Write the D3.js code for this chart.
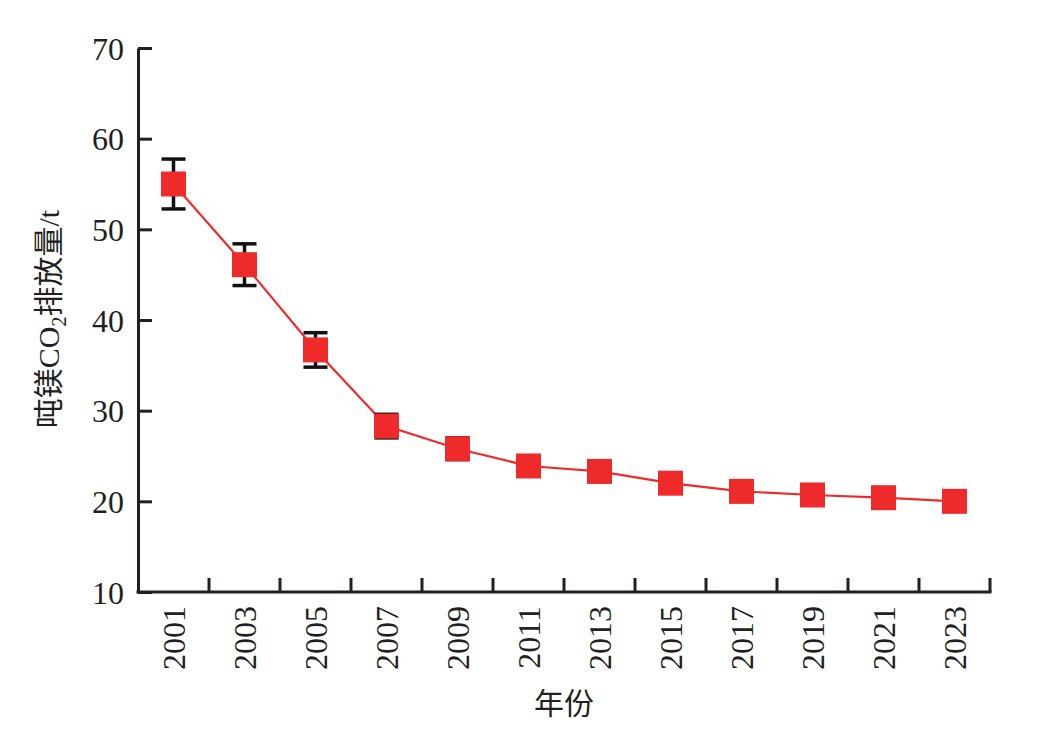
<!DOCTYPE html>
<html><head><meta charset="utf-8">
<script src="https://cdn.jsdelivr.net/npm/d3@7"></script>
<style>
body{margin:0;background:#fff;}
svg{display:block;}
</style></head>
<body>
<svg id="chart" width="1039" height="733"></svg>
<script>
const years = ["2001","2003","2005","2007","2009","2011","2013","2015","2017","2019","2021","2023"];
const values = [55.0, 46.1, 36.7, 28.3, 25.8, 23.9, 23.3, 22.0, 21.1, 20.7, 20.4, 20.0];
const errors = [2.75, 2.3, 1.9, 1.3, 1.2, 1.0, 1.0, 0.8, 0.8, 0.6, 0.6, 0.5];
const yTicks = [10, 20, 30, 40, 50, 60, 70];

const svg = d3.select("#chart");
const m = {left:138, right:990, top:48, bottom:592};
const axisColor = "#231f20";
const red = "#ee2a2a";
const numFont = "'Liberation Serif','Times New Roman',serif";
const cjkFont = "'Liberation Serif','Noto Sans CJK SC',serif";

const x = d3.scaleBand().domain(years).range([m.left, m.right]).padding(0);
const y = d3.scaleLinear().domain([10, 70]).range([m.bottom, m.top]);

// Y axis
const yAxis = svg.append("g").attr("transform", `translate(${m.left},0)`)
  .call(d3.axisRight(y).tickValues(yTicks).tickSize(14).tickSizeOuter(0).tickFormat(d3.format("d")));
yAxis.select(".domain").attr("stroke", axisColor).attr("stroke-width", 3);
yAxis.selectAll(".tick line").attr("stroke", axisColor).attr("stroke-width", 3);
yAxis.selectAll(".tick text").attr("x", -14).attr("text-anchor", "end")
  .attr("font-family", numFont).attr("font-size", 32).attr("fill", axisColor).attr("dy", "0.35em");

// X axis
const xAxis = svg.append("g").attr("transform", `translate(0,${m.bottom})`);
xAxis.append("line").attr("x1", m.left - 1.5).attr("x2", m.right + 1.5).attr("y1", 0).attr("y2", 0)
  .attr("stroke", axisColor).attr("stroke-width", 3);
xAxis.selectAll("line.tk").data(years).join("line").attr("class", "tk")
  .attr("x1", d => x(d) + x.bandwidth()).attr("x2", d => x(d) + x.bandwidth())
  .attr("y1", 0).attr("y2", -14).attr("stroke", axisColor).attr("stroke-width", 3);
xAxis.selectAll("text").data(years).join("text")
  .attr("transform", d => `translate(${x(d) + x.bandwidth()/2},14) rotate(-90)`)
  .attr("text-anchor", "end").attr("dy", "0.35em")
  .attr("font-family", numFont).attr("font-size", 32).attr("fill", axisColor).text(d => d);

// Axis titles
svg.append("text").attr("x", (m.left + m.right)/2).attr("y", 714).attr("text-anchor", "middle")
  .attr("font-family", cjkFont).attr("font-size", 30).attr("fill", axisColor).text("年份");

const yl = svg.append("text").attr("transform", "translate(59,319) rotate(-90)")
  .attr("text-anchor", "middle").attr("font-family", cjkFont).attr("font-size", 30).attr("fill", axisColor);
yl.append("tspan").text("吨镁CO");
yl.append("tspan").attr("font-size", 20).attr("dy", 7).text("2");
yl.append("tspan").attr("dy", -7).text("排放量/t");

const cx = d => x(d) + x.bandwidth()/2;

// line
svg.append("path").datum(years.map((d,i) => [cx(d), y(values[i])]))
  .attr("d", d3.line()).attr("fill", "none").attr("stroke", red).attr("stroke-width", 2.2);

// error bars
const eb = svg.append("g").attr("stroke", "#111").attr("stroke-width", 3.5);
years.forEach((d,i) => {
  const X = cx(d), t = y(values[i] + errors[i]), b = y(values[i] - errors[i]);
  eb.append("line").attr("x1", X).attr("x2", X).attr("y1", t).attr("y2", b);
  eb.append("line").attr("x1", X - 12).attr("x2", X + 12).attr("y1", t).attr("y2", t);
  eb.append("line").attr("x1", X - 12).attr("x2", X + 12).attr("y1", b).attr("y2", b);
});

// markers
svg.append("g").selectAll("rect").data(years).join("rect")
  .attr("x", d => cx(d) - 12.5).attr("y", (d,i) => y(values[i]) - 12.5)
  .attr("width", 25).attr("height", 25).attr("fill", red);
</script>
</body></html>
